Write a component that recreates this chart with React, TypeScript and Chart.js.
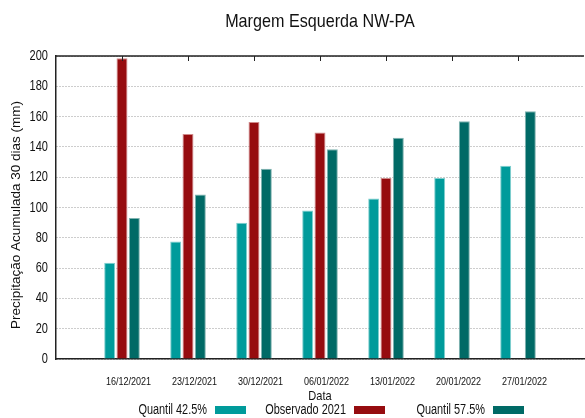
import React, { useEffect, useRef } from "react";
import { Chart, registerables } from "chart.js";

Chart.register(...registerables);

const TITLE = "Margem Esquerda NW-PA";
const Y_TITLE = "Precipitação Acumulada 30 dias (mm)";
const X_TITLE = "Data";
const categories = [
  "16/12/2021",
  "23/12/2021",
  "30/12/2021",
  "06/01/2022",
  "13/01/2022",
  "20/01/2022",
  "27/01/2022",
];
const quantil425 = [63.5, 77.5, 90, 98, 106, 119.5, 127.5];
const observado2021 = [198.5, 148.5, 156.5, 149.5, 119.5, null, null];
const quantil575 = [93, 108.5, 125.5, 138.5, 146, 157, 163.5];
const seriesNames = ["Quantil 42.5%", "Observado 2021", "Quantil 57.5%"];
const seriesColors = ["#009b9b", "#960c0f", "#006a66"];
const seriesBorders = ["#7fcfcf", "#d08a8a", "#7fb3b0"];

const SANS = "'Liberation Sans', Arial, sans-serif";

function narrowText(
  ctx: CanvasRenderingContext2D,
  text: string,
  x: number,
  y: number,
  size: number,
  sx: number,
  align: CanvasTextAlign,
  rotate = 0
) {
  ctx.save();
  ctx.translate(x, y);
  if (rotate) ctx.rotate(rotate);
  ctx.scale(sx, 1);
  ctx.font = `${size}px ${SANS}`;
  ctx.textAlign = align;
  ctx.textBaseline = "middle";
  ctx.fillStyle = "#111";
  ctx.fillText(text, 0, 0);
  ctx.restore();
}

export default function App() {
  const ref = useRef<HTMLCanvasElement | null>(null);

  useEffect(() => {
    if (!ref.current) return;
    const labels = ["", ...categories, ""];
    const pad = (arr: (number | null)[]) => [null, ...arr, null];
    const values = [quantil425, observado2021, quantil575];

    const decor = {
      id: "decor",
      afterDraw(chart: any) {
        const ctx = chart.ctx as CanvasRenderingContext2D;
        const a = chart.chartArea;
        const xs = chart.scales.x;
        const ys = chart.scales.y;
        ctx.save();
        // top frame line with ticks
        ctx.strokeStyle = "#222";
        ctx.lineWidth = 1.5;
        ctx.beginPath();
        ctx.moveTo(a.left, a.top);
        ctx.lineTo(a.right, a.top);
        ctx.stroke();
        ctx.lineWidth = 1;
        for (let i = 1; i <= categories.length; i++) {
          const x = Math.round(xs.getPixelForValue(i)) + 0.5;
          ctx.beginPath();
          ctx.moveTo(x, a.top);
          ctx.lineTo(x, a.top + 5);
          ctx.stroke();
          // x tick labels
          narrowText(ctx, categories[i - 1], x + 6, 382, 11, 0.82, "center");
        }
        ctx.restore();
        // y tick labels
        for (const t of ys.ticks) {
          narrowText(ctx, String(t.value), 48, ys.getPixelForValue(t.value), 14.5, 0.76, "right");
        }
        // titles
        narrowText(ctx, TITLE, (a.left + a.right) / 2, 22, 19, 0.85, "center");
        narrowText(ctx, X_TITLE, (a.left + a.right) / 2, 396, 13, 0.85, "center");
        narrowText(ctx, Y_TITLE, 16, 215, 13.5, 1, "center", -Math.PI / 2);
        // legend
        for (let i = 0; i < 3; i++) {
          const bx = a.left + 159 + i * 139;
          const by = 406;
          narrowText(ctx, seriesNames[i], bx - 8, by + 4, 14, 0.78, "right");
          ctx.fillStyle = seriesColors[i];
          ctx.fillRect(bx, by, 31, 8);
        }
      },
    };

    const chart = new Chart(ref.current, {
      type: "bar",
      data: {
        labels,
        datasets: values.map((v, i) => ({
          label: seriesNames[i],
          data: pad(v),
          backgroundColor: seriesColors[i],
          borderColor: seriesBorders[i],
          borderWidth: 1,
          barPercentage: 0.89,
          categoryPercentage: 0.56,
        })),
      },
      options: {
        animation: false,
        responsive: true,
        maintainAspectRatio: false,
        layout: { padding: { top: 56, left: 0, right: 1, bottom: 0 } },
        plugins: {
          legend: { display: false },
          title: { display: false },
          tooltip: { enabled: false },
        },
        scales: {
          x: {
            offset: false,
            afterFit(scale: any) {
              scale.height = 59;
            },
            grid: { display: false },
            border: { display: true, color: "#222", width: 1.5 },
            ticks: { display: false, autoSkip: false },
          },
          y: {
            min: 0,
            max: 200,
            afterFit(scale: any) {
              scale.width = 56;
            },
            ticks: { stepSize: 20, display: false },
            grid: {
              color: "#9a9a9a",
              lineWidth: 1,
              drawTicks: false,
            },
            border: { display: true, color: "#222", width: 1.5, dash: [1, 2] },
          },
        },
      },
      plugins: [decor],
    });
    return () => chart.destroy();
  }, []);

  return (
    <div style={{ position: "absolute", left: 0, top: 0, width: 585, height: 418, background: "#fff" }}>
      <canvas ref={ref} />
    </div>
  );
}
